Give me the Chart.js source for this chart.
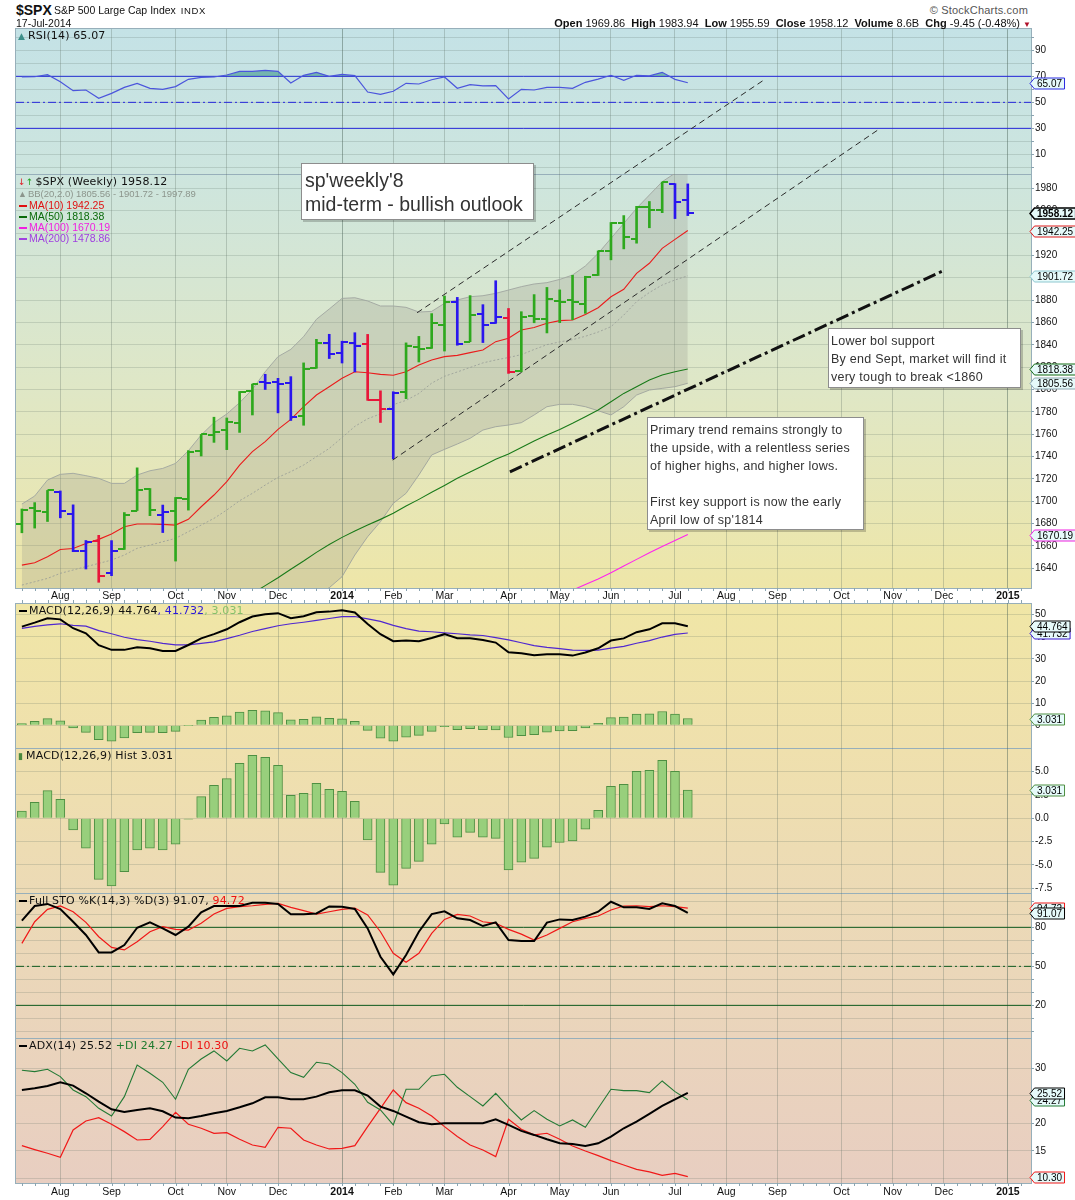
<!DOCTYPE html>
<html>
<head>
<meta charset="utf-8">
<title>$SPX weekly</title>
<script src="https://cdn.jsdelivr.net/npm/chart.js"></script>
<style>
  html, body { margin: 0; padding: 0; background: #fff; }
  body { position: relative; width: 1075px; height: 1200px; overflow: hidden; font-family: "DejaVu Sans", sans-serif; color: #111; }
  .a { position: absolute; white-space: nowrap; }
  canvas { position: absolute; left: 0; }
  #bg { position: absolute; left: 16px; top: 29px; width: 1015px; height: 1154px;
        background: linear-gradient(to bottom, #c4e2e6 0px, #cde5de 145px, #dfe7c6 360px, #eee6a8 559px,
                    #f0e6a6 574px, #efe0ad 720px, #ecdab6 870px, #ead4bc 1010px, #e8cec1 1154px); }
  #strip { position: absolute; left: 0; top: 589px; width: 1075px; height: 14px; background: #fff; }
  .hl { position: absolute; left: 15px; width: 1017px; height: 1px; background: #97afba; }
  .vl { position: absolute; width: 1px; background: #97afba; }
  .leg { position: absolute; font: 11px "DejaVu Sans", sans-serif; line-height: 11px; white-space: nowrap; letter-spacing: 0.15px; }
  .ovl { font: 10.5px "Liberation Sans", sans-serif; line-height: 11px; letter-spacing: 0; }
  .dash { display: inline-block; width: 8px; height: 2px; vertical-align: middle; margin: 0 2px 1px 1px; }
  .box { position: absolute; box-sizing: border-box; background: #fff; border: 1px solid #8d8d8d;
         box-shadow: 2px 2px 0 rgba(0,0,0,0.2); color: #333; font-family: "Liberation Sans", sans-serif; white-space: nowrap; }
</style>
</head>
<body>
<div id="bg"></div>
<div id="strip"></div>

<!-- panel borders -->
<div class="hl" style="top:28px"></div>
<div class="hl" style="top:174px"></div>
<div class="hl" style="top:588px"></div>
<div class="hl" style="top:603px"></div>
<div class="hl" style="top:748px"></div>
<div class="hl" style="top:893px"></div>
<div class="hl" style="top:1038px"></div>
<div class="hl" style="top:1183px"></div>
<div class="vl" style="left:15px;top:28px;height:561px"></div>
<div class="vl" style="left:1031px;top:28px;height:561px"></div>
<div class="vl" style="left:15px;top:603px;height:581px"></div>
<div class="vl" style="left:1031px;top:603px;height:581px"></div>

<canvas id="cRsi" width="1075" height="145" style="top:29px"></canvas>
<canvas id="cMain" width="1075" height="429" style="top:174px"></canvas>
<canvas id="cMacd" width="1075" height="145" style="top:603px"></canvas>
<canvas id="cHist" width="1075" height="145" style="top:748px"></canvas>
<canvas id="cSto" width="1075" height="145" style="top:893px"></canvas>
<canvas id="cAdx" width="1075" height="162" style="top:1038px"></canvas>
<canvas id="cTrend" width="1075" height="559" style="top:29px"></canvas>

<!-- header -->
<div class="a" style="left:16px;top:1px;font:bold 14px 'Liberation Sans';line-height:18px">$SPX</div>
<div class="a" style="left:54px;top:3px;font:10.5px 'Liberation Sans';line-height:15px">S&amp;P 500 Large Cap Index <span style="font-size:9.5px;letter-spacing:0.6px;margin-left:2px">INDX</span></div>
<div class="a" style="left:16px;top:16px;font:10.5px 'Liberation Sans';line-height:15px">17-Jul-2014</div>
<div class="a" style="right:47px;top:3px;font:11px 'Liberation Sans';line-height:14px;color:#555;letter-spacing:0.2px">&copy; StockCharts.com</div>
<div class="a" style="right:44px;top:16px;font:11px 'Liberation Sans';line-height:15px">
  <b>Open</b> 1969.86&nbsp; <b>High</b> 1983.94&nbsp; <b>Low</b> 1955.59&nbsp; <b>Close</b> 1958.12&nbsp; <b>Volume</b> 8.6B&nbsp; <b>Chg</b> -9.45 (-0.48%) <span style="color:#b0102a;font-size:8px">&#9660;</span>
</div>

<!-- panel legends -->
<div class="leg" style="left:18px;top:30px;line-height:12px"><span style="color:#3d8f8a;font-size:9px;margin-right:3px">&#9650;</span>RSI(14) 65.07</div>

<div class="leg" style="left:18px;top:176px">
  <div><span style="color:#e0202a;font-size:9px">&#8595;</span><span style="color:#22a022;font-size:9px;margin-right:2px">&#8593;</span>$SPX (Weekly) 1958.12</div>
  <div class="ovl" style="color:#8c958c;font-size:9.5px"><span style="font-size:9px;margin-right:1px">&#9650;</span>BB(20,2.0) 1805.56 - 1901.72 - 1997.89</div>
  <div class="ovl" style="color:#e01010"><span class="dash" style="background:#e01010"></span>MA(10) 1942.25</div>
  <div class="ovl" style="color:#0a6a0a"><span class="dash" style="background:#0a6a0a"></span>MA(50) 1818.38</div>
  <div class="ovl" style="color:#f020e0"><span class="dash" style="background:#f020e0"></span>MA(100) 1670.19</div>
  <div class="ovl" style="color:#a040e0"><span class="dash" style="background:#a040e0"></span>MA(200) 1478.86</div>
</div>

<div class="leg" style="left:18px;top:605px"><span class="dash" style="background:#000"></span>MACD(12,26,9) 44.764<span style="color:#2a18d8">, 41.732</span><span style="color:#86c06a">, 3.031</span></div>
<div class="leg" style="left:18px;top:750px"><span style="color:#4a8a3e;font-size:9px;margin-right:3px">&#9646;</span>MACD(12,26,9) Hist 3.031</div>
<div class="leg" style="left:18px;top:895px"><span class="dash" style="background:#000"></span>Full STO %K(14,3) %D(3) 91.07, <span style="color:#ee1111">94.72</span></div>
<div class="leg" style="left:18px;top:1040px"><span class="dash" style="background:#000"></span>ADX(14) 25.52 <span style="color:#1e7a2e">+DI 24.27</span> <span style="color:#ee1111">-DI 10.30</span></div>

<!-- chart notes -->
<div class="box" style="left:301px;top:163px;width:233px;height:57px;padding:4px 0 0 3px;font-size:19.5px;line-height:24px">sp'weekly'8<br>mid-term - bullish outlook</div>
<div class="box" style="left:828px;top:328px;width:193px;height:60px;padding:3px 0 0 2px;font-size:12.5px;line-height:18px;letter-spacing:0.25px">Lower bol support<br>By end Sept, market will find it<br>very tough to break &lt;1860</div>
<div class="box" style="left:647px;top:417px;width:217px;height:113px;padding:3px 0 0 2px;font-size:12.5px;line-height:18px;letter-spacing:0.25px">Primary trend remains strongly to<br>the upside, with a relentless series<br>of higher highs, and higher lows.<br><br>First key support is now the early<br>April low of sp'1814</div>

<script>
// ---- weekly bars (week starting Monday) ----
const WEEKS = ['2013-07-15','2013-07-22','2013-07-29','2013-08-05','2013-08-12','2013-08-19','2013-08-26','2013-09-02',
  '2013-09-09','2013-09-16','2013-09-23','2013-09-30','2013-10-07','2013-10-14','2013-10-21','2013-10-28','2013-11-04',
  '2013-11-11','2013-11-18','2013-11-25','2013-12-02','2013-12-09','2013-12-16','2013-12-23','2013-12-30','2014-01-06',
  '2014-01-13','2014-01-20','2014-01-27','2014-02-03','2014-02-10','2014-02-18','2014-02-24','2014-03-03','2014-03-10',
  '2014-03-17','2014-03-24','2014-03-31','2014-04-07','2014-04-14','2014-04-21','2014-04-28','2014-05-05','2014-05-12',
  '2014-05-19','2014-05-27','2014-06-02','2014-06-09','2014-06-16','2014-06-23','2014-06-30','2014-07-07','2014-07-14'];

const OPEN = [1679.6,1694.4,1690.3,1708.0,1688.4,1655.3,1664.3,1635.9,1656.9,1691.7,1711.4,1687.3,1691.7,1702.3,1745.2,
  1759.4,1763.4,1770.0,1798.8,1806.3,1806.6,1806.2,1776.0,1819.0,1841.5,1832.3,1841.3,1841.1,1791.0,1782.7,1797.8,
  1838.2,1836.8,1857.7,1877.9,1842.8,1867.7,1859.2,1863.9,1816.4,1865.8,1863.4,1879.5,1880.0,1876.7,1902.0,1923.9,
  1949.0,1934.8,1962.9,1960.8,1984.2,1969.86];
const HIGH = [1693.1,1698.8,1709.7,1709.2,1696.8,1664.9,1669.5,1664.8,1689.9,1729.9,1711.4,1696.6,1703.4,1745.3,1759.8,
  1775.2,1774.5,1798.2,1804.8,1813.6,1810.0,1811.5,1823.8,1844.9,1849.4,1843.2,1850.8,1849.3,1798.8,1798.0,1841.7,
  1847.5,1867.9,1883.6,1882.4,1884.0,1875.9,1897.3,1872.5,1869.6,1884.9,1891.3,1889.1,1902.2,1901.3,1924.0,1949.4,
  1955.6,1963.9,1968.2,1985.6,1984.2,1983.94];
const LOW = [1671.8,1676.0,1681.9,1685.2,1654.9,1639.4,1627.5,1633.4,1656.9,1691.7,1687.1,1672.0,1646.5,1692.1,1740.5,
  1752.7,1746.2,1761.6,1777.2,1800.0,1779.1,1772.3,1768.0,1819.0,1827.7,1823.7,1815.8,1790.3,1770.5,1737.9,1791.8,
  1824.6,1836.8,1834.4,1839.6,1842.8,1842.0,1859.2,1814.4,1815.8,1859.7,1850.6,1859.8,1862.4,1868.1,1902.0,1916.0,
  1925.8,1930.9,1944.7,1958.2,1952.9,1955.59];
const CLOSE = [1692.1,1691.7,1709.7,1691.4,1655.8,1663.5,1633.0,1655.2,1688.0,1709.9,1691.8,1690.5,1703.2,1744.5,1759.8,
  1761.6,1770.6,1798.2,1804.8,1805.8,1805.1,1775.3,1818.3,1841.4,1831.4,1842.4,1838.7,1790.3,1782.6,1797.0,1838.6,
  1836.3,1859.5,1878.0,1841.1,1866.5,1857.6,1865.1,1815.7,1864.9,1863.4,1881.1,1878.5,1877.9,1900.5,1923.6,1949.4,
  1936.2,1962.9,1961.0,1985.4,1967.6,1958.12];
// bar colour class as printed: g = green, b = blue, r = red
const BAR_CLASS = ['g','g','g','b','b','b','r','b','g','g','g','b','g','g','g','g','g','g','g','b','b','b','g','g','b','b',
  'b','r','r','b','g','g','g','g','b','g','b','b','r','g','g','g','g','g','g','g','g','g','g','g','g','b','b'];

// ---- price overlays ----
const BB_UPPER = [1697.5,1704.7,1719.0,1724.1,1725.0,1722.9,1720.5,1716.0,1716.0,1723.5,1727.3,1729.4,1733.9,1745.2,1759.3,
  1770.3,1778.1,1788.2,1800.1,1815.9,1829.4,1835.9,1847.3,1862.8,1872.0,1881.5,1882.1,1879.2,1874.7,1874.7,1873.5,
  1869.3,1869.9,1877.1,1880.1,1883.0,1883.9,1886.0,1889.0,1892.0,1894.4,1895.6,1898.5,1902.4,1910.5,1921.8,1935.2,
  1948.6,1962.1,1974.0,1985.9,1993.5,1997.89];
const BB_MID = [1625.0,1628.0,1631.0,1635.5,1638.5,1641.5,1644.4,1647.4,1651.9,1657.9,1660.8,1663.8,1666.8,1672.8,1678.7,
  1684.7,1692.2,1700.5,1707.1,1714.5,1721.4,1726.5,1732.4,1739.9,1747.3,1757.0,1767.0,1773.8,1778.2,1786.4,1790.3,
  1796.4,1805.7,1811.8,1815.7,1819.7,1823.8,1826.4,1828.6,1831.2,1835.8,1840.1,1842.6,1844.6,1847.6,1851.4,1856.2,
  1866.6,1878.6,1886.8,1893.5,1898.0,1901.72];
const BB_LOWER = [1552.5,1551.3,1543.0,1546.9,1552.0,1560.1,1568.3,1578.8,1587.8,1592.3,1594.3,1598.2,1599.7,1600.4,1598.1,
  1599.1,1606.3,1612.8,1614.1,1613.1,1613.4,1617.1,1617.5,1617.0,1622.6,1632.5,1651.9,1668.3,1681.7,1698.1,1707.1,
  1723.5,1741.4,1746.4,1751.2,1756.3,1763.7,1766.7,1768.2,1770.3,1777.2,1784.6,1786.7,1786.7,1784.6,1781.0,1777.2,
  1784.6,1795.0,1799.5,1801.0,1802.5,1805.56];
const MA10 = [1642.9,1645.0,1650.4,1656.9,1657.8,1662.3,1665.9,1670.7,1677.2,1679.6,1679.6,1679.3,1678.7,1683.8,1695.1,
  1705.6,1717.5,1732.4,1744.4,1753.3,1764.3,1773.3,1784.6,1795.1,1802.5,1810.0,1815.9,1815.0,1813.5,1812.7,1815.9,
  1821.9,1826.4,1829.4,1830.5,1833.0,1835.3,1842.8,1845.8,1853.2,1855.5,1859.2,1861.6,1862.2,1867.2,1873.2,1883.0,
  1889.6,1903.9,1912.9,1926.3,1934.3,1942.25];
const MA50 = [null,null,null,null,null,null,null,null,null,null,null,null,null,null,null,null,null,1610.5,1617.5,1624.5,
  1631.6,1639.1,1646.5,1654.3,1661.4,1667.7,1673.4,1678.7,1683.8,1689.2,1695.7,1701.7,1708.0,1714.2,1720.5,1726.2,
  1731.8,1737.5,1742.3,1748.2,1754.0,1759.3,1764.3,1769.7,1775.7,1781.6,1789.1,1796.5,1802.5,1808.5,1812.9,1815.9,1818.38];
const MA100 = [null,null,null,null,null,null,null,null,null,null,null,null,null,null,null,null,null,null,null,null,null,
  null,null,null,null,null,null,null,null,null,null,null,null,null,null,null,null,null,null,null,null,null,null,
  1620.5,1625.5,1630.5,1636.0,1642.0,1648.0,1654.0,1659.5,1665.0,1670.19];

// hand-drawn lines: [week index, price]
const TREND_UPPER = [[30.86, 1868.7], [58.05, 2077.8]];
const TREND_LOWER = [[28.95, 1736.9], [67.03, 2033.7]];
const TREND_SUPPORT = [[38.11, 1726.4], [72.07, 1906.9]];

// ---- indicators ----
const RSI = [69.5,69.7,71.3,65.9,59.0,59.5,53.1,56.9,61.5,64.6,60.8,60.0,62.1,67.7,69.2,69.5,71.0,73.8,73.8,74.6,73.8,
  64.9,70.8,73.1,70.0,71.5,70.5,57.9,56.2,58.5,64.6,64.1,67.4,69.5,60.8,63.6,62.6,62.8,52.6,60.0,59.5,61.5,61.5,
  60.8,65.4,67.9,70.8,66.9,70.8,70.3,73.1,67.7,65.07];
const MACD = [44.6,46.4,48.4,47.9,43.9,41.6,36.2,34.1,34.1,35.3,34.8,33.6,33.6,36.3,39.3,41.2,43.4,46.6,49.2,50.2,50.7,
  48.4,49.3,51.1,51.4,52.0,51.0,45.8,41.2,38.0,38.3,38.0,39.5,41.2,39.4,39.4,38.6,37.4,33.0,32.6,31.7,32.1,32.1,
  31.5,32.9,34.8,38.3,39.3,42.1,43.4,46.1,46.1,44.764];
const SIGNAL = [43.8,44.7,45.4,45.9,45.2,44.8,42.8,41.4,39.8,38.7,38.0,37.0,36.4,36.4,37.0,37.7,39.2,40.7,42.4,43.7,45.0,
  45.9,46.6,47.4,48.3,49.1,49.2,48.1,47.0,45.2,43.7,42.6,42.3,41.8,41.4,40.9,40.6,39.6,38.6,37.3,36.0,35.2,34.7,
  34.0,33.9,34.0,34.9,35.7,37.1,38.3,39.9,41.1,41.732];
const HIST = [0.78,1.71,2.96,2.03,-1.25,-3.22,-6.55,-7.26,-5.73,-3.40,-3.22,-3.40,-2.79,-0.11,2.32,3.54,4.25,5.90,6.76,
  6.54,5.68,2.46,2.68,3.75,3.11,2.89,1.82,-2.33,-5.80,-7.19,-5.37,-4.62,-2.79,-0.61,-2.04,-1.51,-2.04,-2.15,-5.55,
  -4.72,-4.30,-3.11,-2.58,-2.43,-1.18,0.86,3.43,3.65,5.04,5.15,6.22,5.04,3.031];
const STO_K = [85.1,96.4,98.0,94.0,84.3,74.1,60.7,60.7,66.4,79.7,83.8,79.2,74.1,80.5,91.5,96.4,96.4,96.4,98.9,98.9,97.9,
  90.0,90.0,90.7,96.1,95.9,94.1,79.2,57.4,43.8,58.7,76.6,90.2,92.3,86.9,85.6,81.0,83.8,70.2,69.5,69.5,83.6,86.1,
  85.6,88.2,92.0,99.7,95.4,95.4,94.1,98.5,96.4,91.07];
const STO_D = [67.7,84.3,93.8,96.4,92.0,83.8,72.8,64.6,62.6,69.0,76.6,80.5,78.4,77.9,83.1,90.2,94.6,95.9,96.6,97.7,98.4,
  95.4,92.8,90.2,92.0,93.8,94.8,89.5,76.6,60.0,53.1,60.0,75.4,86.1,90.0,88.7,84.3,83.1,78.4,74.8,70.2,74.1,79.2,
  84.3,86.9,88.7,93.3,96.4,96.6,95.9,96.6,95.9,94.72];
const ADX = [26.06,26.36,26.78,27.45,26.84,25.45,23.93,22.54,22.05,22.42,22.72,22.18,21.03,20.90,21.33,21.82,22.24,22.90,
  23.63,24.72,24.72,24.36,24.36,24.84,25.63,26.00,26.00,25.03,23.03,22.24,21.21,20.18,19.82,20.00,20.00,20.00,20.00,
  20.73,19.70,18.61,17.88,17.09,16.36,16.24,15.88,16.36,17.58,19.09,20.30,21.70,23.15,24.36,25.52];
const PLUS_DI = [29.63,29.39,29.81,28.48,26.05,24.84,22.72,21.33,24.84,30.60,29.08,27.45,24.36,29.81,31.69,33.15,31.33,
  33.63,33.15,34.24,31.69,29.21,28.36,31.09,30.78,29.21,27.09,23.81,22.42,19.70,26.18,26.18,28.60,28.90,26.54,24.84,
  23.15,25.45,22.90,20.60,22.30,20.73,19.52,20.61,19.27,22.72,26.18,25.93,25.93,25.57,27.69,25.75,24.27];
const MINUS_DI = [15.93,15.21,14.54,13.81,18.78,20.42,21.02,19.81,18.48,16.96,17.08,19.39,21.99,19.81,19.09,18.18,18.30,
  17.08,16.05,15.63,19.27,19.09,16.96,16.05,15.33,15.45,15.93,19.39,22.72,26.05,23.75,22.72,21.33,19.39,17.58,16.05,
  15.15,13.94,20.73,18.90,17.88,18.18,17.08,15.87,14.96,14.12,13.21,12.42,11.63,11.15,10.54,10.90,10.30];

// ---- axes ----
const MONTH_POS = [3, 7, 12, 16, 20, 25, 29, 33, 38, 42, 46, 51, 55, 59, 64, 68, 72, 77];
const MONTH_LABELS = ['Aug','Sep','Oct','Nov','Dec','2014','Feb','Mar','Apr','May','Jun','Jul','Aug','Sep','Oct','Nov','Dec','2015'];
const YEAR_MARKS = ['2014', '2015'];
const PRICE_TICKS = [1640,1660,1680,1700,1720,1740,1760,1780,1800,1820,1840,1860,1880,1900,1920,1940,1960,1980];
const RSI_TICKS = [0,10,20,30,40,50,60,70,80,90,100];
const RSI_LABELS = [10,30,50,70,90];
const RSI_LEVELS = [30, 50, 70];
const MACD_TICKS = [0,10,20,30,40,50];
const MACD_LABELS = [0,10,20,30,40,50];
const HIST_TICKS = [-7.5,-5,-2.5,0,2.5,5];
const HIST_LABELS = [-7.5,-5,-2.5,0,2.5,5];
const STO_TICKS = [0,10,20,30,40,50,60,70,80,90,100];
const STO_LABELS = [20,50,80];
const STO_LEVELS = [20, 50, 80];
const ADX_TICKS = [10,15,20,25,30];
const ADX_LABELS = [15,20,25,30];

const X_MIN = -0.46, X_MAX = 78.8;
const GRID_H = 'rgba(85,105,95,0.2)';
const GRID_V = 'rgba(85,105,95,0.28)';
const GRID_YEAR = 'rgba(70,95,85,0.45)';
const AXIS_TICK = '#8aa4b0';
const COLORS = { g: '#2ea81e', b: '#2a16ee', r: '#e8163a' };

Chart.defaults.font.family = 'Liberation Sans';
Chart.defaults.font.size = 10;
Chart.defaults.color = '#111';

const last = a => a[a.length - 1];
const pts = arr => arr.map((v, i) => ({ x: i, y: v }));
const seg = pair => pair.map(p => ({ x: p[0], y: p[1] }));

function line(arr, color, width, extra) {
  return Object.assign({ type: 'line', data: pts(arr), borderColor: color, borderWidth: width,
    pointRadius: 0, tension: 0, fill: false }, extra || {});
}
function level(v, color, dash) {
  return { type: 'line', data: [{ x: X_MIN, y: v }, { x: X_MAX, y: v }], borderColor: color, borderWidth: 1,
    borderDash: dash || [], pointRadius: 0, fill: false };
}

function noPad(s) { s.paddingTop = 0; s.paddingBottom = 0; s.paddingLeft = 0; s.paddingRight = 0; }

function xScale(labelHeight, labelPad) {
  const isYear = c => YEAR_MARKS.includes(MONTH_LABELS[c.index]);
  return {
    type: 'linear', min: X_MIN, max: X_MAX, offset: false,
    afterBuildTicks: s => { s.ticks = MONTH_POS.map(v => ({ value: v })); },
    afterFit: s => { s.height = labelHeight; noPad(s); },
    border: { display: false },
    grid: { offset: false, drawTicks: false, color: c => isYear(c) ? GRID_YEAR : GRID_V },
    ticks: {
      display: labelHeight > 0, autoSkip: false, maxRotation: 0, padding: labelPad || 2, color: '#111',
      callback: (v, i) => MONTH_LABELS[i],
      font: c => ({ family: 'Liberation Sans', size: 10.5, weight: isYear(c) ? 'bold' : 'normal' })
    }
  };
}

function yScale(min, max, ticks, shown, dec) {
  return {
    position: 'right', min: min, max: max,
    afterBuildTicks: s => { s.ticks = ticks.map(v => ({ value: v })); },
    afterFit: s => { s.width = 44; noPad(s); },
    border: { display: false },
    grid: { drawTicks: true, tickLength: 3, tickColor: AXIS_TICK, color: GRID_H },
    ticks: { autoSkip: false, padding: 1, color: '#111', font: { family: 'Liberation Sans', size: 10 },
      callback: v => shown.includes(v) ? v.toFixed(dec) : '' }
  };
}

// value tags on the right axis (drawn last, in list order)
function tagPlugin(items) {
  return {
    id: 'tags',
    afterDraw(chart) {
      const ctx = chart.ctx, ys = chart.scales.y, right = chart.chartArea.right;
      items.forEach(t => {
        const y = Math.round(ys.getPixelForValue(t.value)) + 0.5;
        ctx.save();
        ctx.font = (t.bold ? 'bold ' : '') + '10px "Liberation Sans"';
        const w = ctx.measureText(t.text).width + 5, x0 = right + 3.5, h = 11;
        ctx.beginPath();
        ctx.moveTo(right - 1, y);
        ctx.lineTo(x0, y - h / 2);
        ctx.lineTo(x0 + w, y - h / 2);
        ctx.lineTo(x0 + w, y + h / 2);
        ctx.lineTo(x0, y + h / 2);
        ctx.closePath();
        ctx.fillStyle = '#e6fafa';
        ctx.fill();
        ctx.lineWidth = t.bold ? 1.5 : 1;
        ctx.strokeStyle = t.color;
        ctx.stroke();
        ctx.fillStyle = '#000';
        ctx.textBaseline = 'middle';
        ctx.fillText(t.text, x0 + 2.5, y + 0.5);
        ctx.restore();
      });
    }
  };
}
const tag = (value, dec, color, bold) => ({ value: value, text: value.toFixed(dec), color: color, bold: !!bold });

// small weekly tick marks on the date strips
function weekTicks(alsoAtCanvasBottom) {
  return {
    id: 'weekTicks',
    afterDraw(chart) {
      const ctx = chart.ctx, xs = chart.scales.x, a = chart.chartArea;
      ctx.save();
      ctx.strokeStyle = AXIS_TICK;
      ctx.lineWidth = 1;
      ctx.beginPath();
      for (let w = 0; w <= Math.floor(X_MAX); w++) {
        const x = Math.round(xs.getPixelForValue(w)) + 0.5;
        ctx.moveTo(x, a.bottom);
        ctx.lineTo(x, a.bottom + 3);
        if (alsoAtCanvasBottom) { ctx.moveTo(x, chart.height - 3); ctx.lineTo(x, chart.height); }
      }
      ctx.stroke();
      ctx.restore();
    }
  };
}

function options(scales) {
  return {
    responsive: false, animation: false, events: [],
    layout: { autoPadding: false, padding: { left: 16, right: 0, top: 0, bottom: 0 } },
    plugins: { legend: { display: false }, tooltip: { enabled: false } },
    scales: scales
  };
}

// open / close ticks as point images
function tickImage(color, left) {
  const c = document.createElement('canvas');
  c.width = 12; c.height = 2;
  const g = c.getContext('2d');
  g.fillStyle = color;
  g.fillRect(left ? 0 : 6, 0, 6, 2);
  return c;
}
const IMG = {};
Object.keys(COLORS).forEach(k => { IMG[k] = { o: tickImage(COLORS[k], true), c: tickImage(COLORS[k], false) }; });

// ---- RSI ----
new Chart(document.getElementById('cRsi'), {
  type: 'line',
  data: { datasets: [
    line(RSI, '#4b55dc', 1.2, { fill: { target: { value: RSI_LEVELS[2] }, above: 'rgba(60,150,140,0.6)', below: 'rgba(0,0,0,0)' } }),
    level(RSI_LEVELS[2], '#2626dc'),
    level(RSI_LEVELS[1], '#2626dc', [8, 3, 2, 3]),
    level(RSI_LEVELS[0], '#2626dc')
  ] },
  options: options({ x: xScale(0), y: yScale(-5.1, 106.4, RSI_TICKS, RSI_LABELS, 0) }),
  plugins: [tagPlugin([tag(last(RSI), 2, '#2a2ae0')])]
});

// ---- price ----
new Chart(document.getElementById('cMain'), {
  type: 'line',
  data: { datasets: [
    { type: 'line', data: pts(CLOSE), showLine: false, pointRadius: 3, pointStyle: BAR_CLASS.map(k => IMG[k].c) },
    { type: 'line', data: pts(OPEN), showLine: false, pointRadius: 3, pointStyle: BAR_CLASS.map(k => IMG[k].o) },
    { type: 'bar', data: HIGH.map((h, i) => ({ x: i, y: [LOW[i], h] })), backgroundColor: BAR_CLASS.map(k => COLORS[k]),
      borderWidth: 0, barThickness: 2, grouped: false },
    line(MA10, '#ea1c1c', 1.1),
    line(MA50, '#197a19', 1.1),
    line(MA100, '#ff22ee', 1.1),
    line(BB_MID, 'rgba(150,155,150,0.8)', 1, { borderDash: [2, 2] }),
    line(BB_UPPER, 'rgba(160,165,160,0.9)', 1, { fill: '+1', backgroundColor: 'rgba(150,150,140,0.27)' }),
    line(BB_LOWER, 'rgba(160,165,160,0.9)', 1)
  ] },
  options: options({ x: xScale(15, 2), y: yScale(1622.4, 1992.8, PRICE_TICKS, PRICE_TICKS, 0) }),
  plugins: [weekTicks(true), tagPlugin([
    tag(last(CLOSE), 2, '#000', true),
    tag(last(MA10), 2, '#e01818'),
    tag(last(BB_MID), 2, '#8ec8d0'),
    tag(last(MA50), 2, '#136a13'),
    tag(last(BB_LOWER), 2, '#8aa6b0'),
    tag(last(MA100), 2, '#f020e0')
  ])]
});

// ---- hand-drawn trend lines (same price scale, extended over the RSI panel) ----
new Chart(document.getElementById('cTrend'), {
  type: 'line',
  data: { datasets: [
    { data: seg(TREND_UPPER), borderColor: '#2a2a2a', borderWidth: 1, borderDash: [6, 4], pointRadius: 0 },
    { data: seg(TREND_LOWER), borderColor: '#2a2a2a', borderWidth: 1, borderDash: [6, 4], pointRadius: 0 },
    { data: seg(TREND_SUPPORT), borderColor: '#111', borderWidth: 3, borderDash: [13, 4, 3, 4], pointRadius: 0 }
  ] },
  options: options({
    x: Object.assign(xScale(0), { grid: { display: false } }),
    y: { position: 'right', min: 1622.4, max: 2122.6, afterFit: s => { s.width = 44; noPad(s); },
         ticks: { display: false }, grid: { display: false }, border: { display: false } }
  })
});

// ---- MACD ----
new Chart(document.getElementById('cMacd'), {
  type: 'line',
  data: { datasets: [
    line(MACD, '#000', 2),
    line(SIGNAL, '#5028d0', 1.2),
    { type: 'bar', data: pts(HIST), backgroundColor: '#98cf7c', borderColor: '#4e8f42', borderWidth: 1, barThickness: 9, grouped: false }
  ] },
  options: options({ x: xScale(0), y: yScale(-10.3, 55.3, MACD_TICKS, MACD_LABELS, 0) }),
  plugins: [tagPlugin([
    tag(last(HIST), 3, '#4e8f42'),
    tag(last(SIGNAL), 3, '#3a1ad0'),
    tag(last(MACD), 3, '#000')
  ])]
});

// ---- MACD histogram ----
new Chart(document.getElementById('cHist'), {
  type: 'line',
  data: { datasets: [
    { type: 'bar', data: pts(HIST), backgroundColor: '#98cf7c', borderColor: '#4e8f42', borderWidth: 1, barThickness: 9, grouped: false }
  ] },
  options: options({ x: xScale(0), y: yScale(-8.02, 7.54, HIST_TICKS, HIST_LABELS, 1) }),
  plugins: [tagPlugin([tag(last(HIST), 3, '#4e8f42')])]
});

// ---- Full stochastics ----
new Chart(document.getElementById('cSto'), {
  type: 'line',
  data: { datasets: [
    line(STO_K, '#000', 2),
    line(STO_D, '#f01818', 1.2),
    level(STO_LEVELS[2], '#0f5a1e'),
    level(STO_LEVELS[1], '#0f5a1e', [8, 3, 2, 3]),
    level(STO_LEVELS[0], '#0f5a1e')
  ] },
  options: options({ x: xScale(0), y: yScale(-5.1, 106.4, STO_TICKS, STO_LABELS, 0) }),
  plugins: [tagPlugin([
    tag(last(STO_D), 2, '#f01818'),
    tag(last(STO_K), 2, '#000')
  ])]
});

// ---- ADX ----
new Chart(document.getElementById('cAdx'), {
  type: 'line',
  data: { datasets: [
    line(ADX, '#000', 2),
    line(PLUS_DI, '#237a35', 1.1),
    line(MINUS_DI, '#f01818', 1.2)
  ] },
  options: options({ x: xScale(17, 3), y: yScale(9.14, 35.5, ADX_TICKS, ADX_LABELS, 0) }),
  plugins: [weekTicks(false), tagPlugin([
    tag(last(MINUS_DI), 2, '#f01818'),
    tag(last(PLUS_DI), 2, '#237a35'),
    tag(last(ADX), 2, '#000')
  ])]
});
</script>
</body>
</html>
